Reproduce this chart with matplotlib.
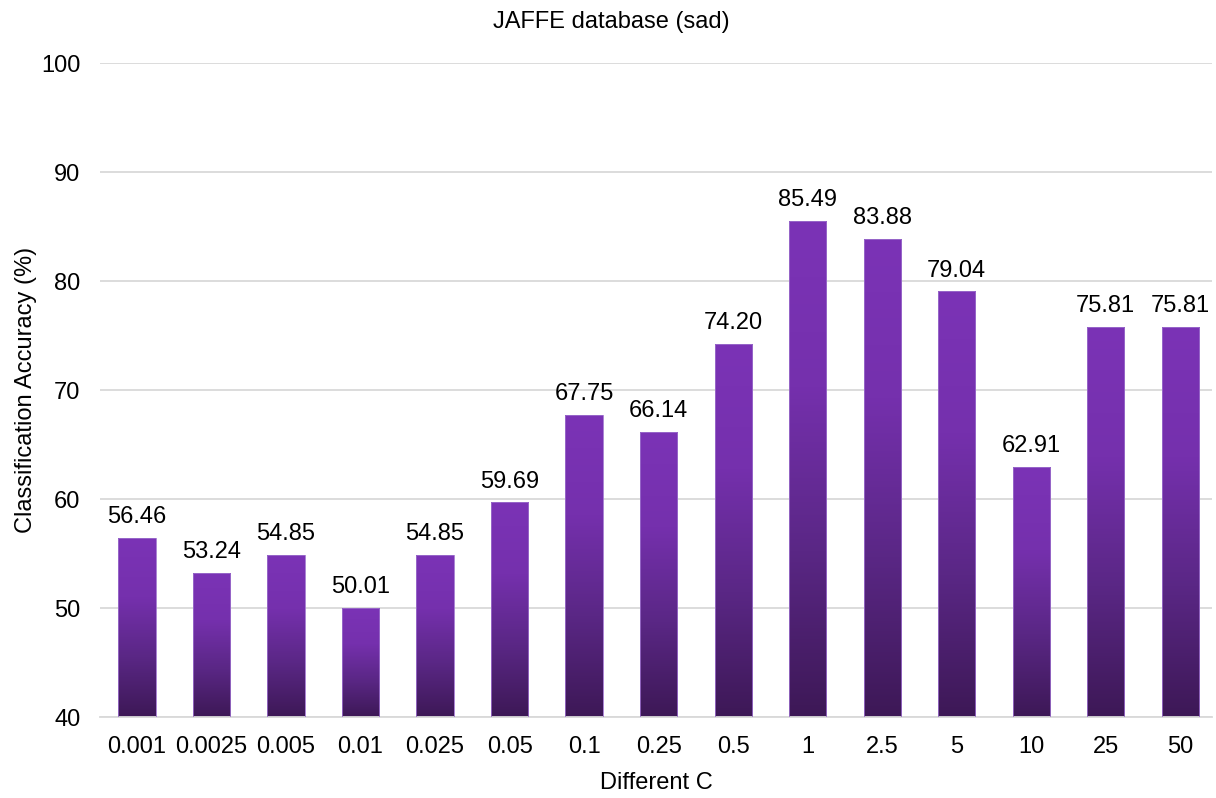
import matplotlib

matplotlib.use('Agg')
import matplotlib.pyplot as plt
import numpy as np
from matplotlib.colors import LinearSegmentedColormap

# Данные
c_labels = ['0.001', '0.0025', '0.005', '0.01', '0.025', '0.05', '0.1', '0.25',
            '0.5', '1', '2.5', '5', '10', '25', '50']
accuracy = [56.46, 53.24, 54.85, 50.01, 54.85, 59.69, 67.75, 66.14,
            74.20, 85.49, 83.88, 79.04, 62.91, 75.81, 75.81]

plt.rcParams['font.family'] = ['Liberation Sans', 'DejaVu Sans']

fig = plt.figure(figsize=(12.16, 7.98), dpi=100)
ax = fig.add_axes([0.082, 0.1015, 0.915, 0.8195])

x = np.arange(len(c_labels))
bars = ax.bar(x, accuracy, width=0.5, bottom=0, color='none',
              edgecolor='#9c6fcc', linewidth=0.6, zorder=3)

# Градиент внутри столбцов
cmap = LinearSegmentedColormap.from_list('purp', ['#3d1856', '#5a2785', '#7530ad', '#7b33b6'])
grad = np.linspace(0, 1, 256).reshape(-1, 1)
for bar in bars:
    x0, w, h = bar.get_x(), bar.get_width(), bar.get_height()
    im = ax.imshow(grad, cmap=cmap, aspect='auto', origin='lower',
                   extent=[x0, x0 + w, 40, h], zorder=2)
    im.set_clip_path(bar)
    ax.text(x0 + w / 2, h + 0.9, f'{h:.2f}', ha='center', va='bottom', fontsize=17)

ax.set_xlim(-0.5, 14.43)
ax.set_ylim(40, 100)
ax.set_yticks(np.arange(40, 101, 10))
ax.set_xticks(x)
ax.set_xticklabels(c_labels)
ax.tick_params(axis='both', length=0, labelsize=17)
ax.tick_params(axis='x', pad=14)
ax.tick_params(axis='y', pad=14)

ax.grid(axis='y', color='#d9d9d9', linewidth=1.3, zorder=0)
ax.set_axisbelow(True)
for s in ['top', 'right', 'left']:
    ax.spines[s].set_visible(False)
ax.spines['bottom'].set_color('#d9d9d9')
ax.spines['bottom'].set_linewidth(1.3)

fig.text(0.503, 0.972, 'JAFFE database (sad)', fontsize=17, ha='center', va='center')
ax.set_xlabel('Different C', fontsize=17, labelpad=10)
ax.set_ylabel('Classification Accuracy (%)', fontsize=17, labelpad=3)

plt.savefig('out.png', dpi=100)
plt.close()
